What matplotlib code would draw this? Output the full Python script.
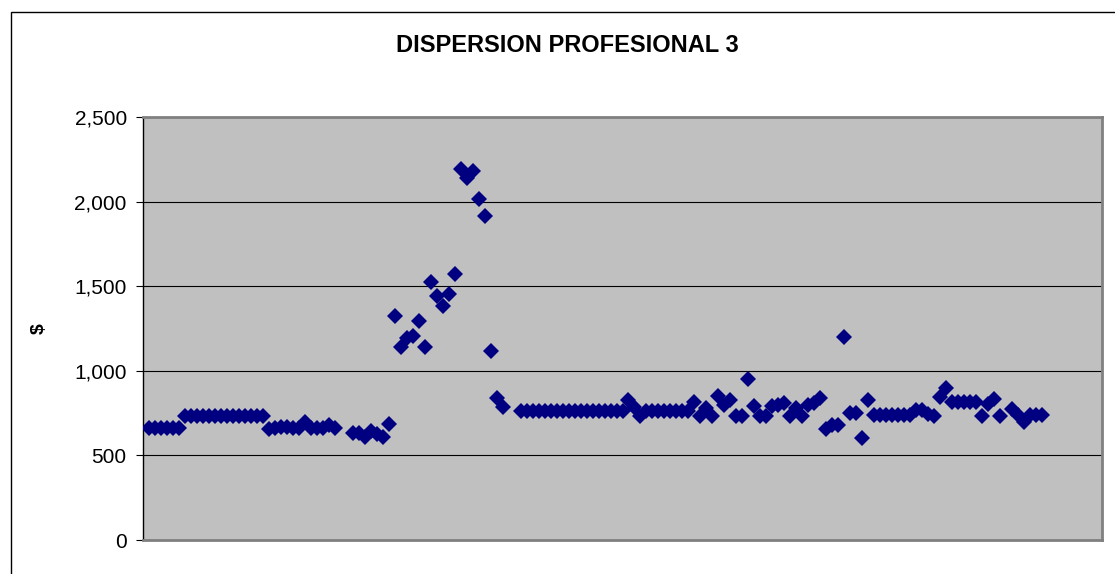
import numpy as np
import matplotlib
matplotlib.use("Agg")
import matplotlib.pyplot as plt
from matplotlib.patches import Rectangle
from matplotlib.ticker import StrMethodFormatter

plt.rcParams['font.family'] = ['Liberation Sans', 'DejaVu Sans']

nan = np.nan

# case number of each professional (1..150)
casos = list(range(1, 151))

# salary per case, nan where the case has no value
salario = (
    [660] * 6
    + [735] * 14
    + [658, 660, 665, 668, 660, 660, 695, 662, 660, 662, 680, 660]
    + [nan, nan]
    + [634, 630, 611, 644, 626, 611, 684]
    + [1326, 1139, 1192, 1206, 1294, 1143, 1523, 1444, 1383, 1454,
       1572, 2191, 2140, 2183, 2013, 1917, 1117, 837, 785]
    + [nan, nan]
    + [760] * 18
    + [829, 785, 733, 762]
    + [760] * 7
    + [818, 734, 783, 734, 852, 795, 829, 731, 734, 952]
    + [792, 731, 731, 792, 795, 808, 731, 778, 731]
    + [800]
    + [812, 837, 654, 680, 680, 1198, 749, 752, 601, 825, 737]
    + [737] * 6
    + [770, 770, 745, 735]
    + [847, 896]
    + [818] * 5
    + [731, 805, 835, 731]
    + [nan]
    + [775, 740, 695, 737, 737, 737]
)

titulo = "DISPERSION PROFESIONAL 3"
y_ticks = [0, 500, 1000, 1500, 2000, 2500]

W, H = 1115, 574
fig = plt.figure(figsize=(W / 100, H / 100), dpi=100)
fig.patch.set_facecolor('white')

# chart border (runs off the right/bottom edge)
fig.add_artist(Rectangle((10.5 / W, -0.1), 1.2, 1 - 12.5 / H + 0.1,
                         transform=fig.transFigure, fill=False,
                         edgecolor='black', linewidth=1.0))

ax = fig.add_axes([143 / W, 1 - 540 / H, 959 / W, 423 / H])
ax.set_facecolor('#C0C0C0')

ax.plot(casos, salario, linestyle='none', marker='D', markersize=7.8,
        color='#000080', markeredgewidth=0, zorder=3)

ax.set_xlim(0, 160)
ax.set_ylim(0, 2500)
ax.set_yticks(y_ticks)
ax.yaxis.set_major_formatter(StrMethodFormatter('{x:,.0f}'))
ax.set_xticks([])
ax.grid(axis='y', color='black', linewidth=0.8, zorder=1)
ax.set_axisbelow(True)

ax.tick_params(axis='y', direction='out', length=4.7, width=0.8,
               color='black', pad=7, labelsize=15)

for side in ['top', 'right', 'bottom']:
    ax.spines[side].set_color('#808080')
    ax.spines[side].set_linewidth(2)
ax.spines['left'].set_color('black')
ax.spines['left'].set_linewidth(1)

ax.set_ylabel('$', fontsize=14, fontweight='bold', rotation=90)
ax.yaxis.set_label_coords(-0.099, 0.5)

fig.text(567 / W, 1 - 45 / H, titulo, ha='center', va='center',
         fontsize=17, fontweight='bold')

fig.savefig('out.png', dpi=100)
